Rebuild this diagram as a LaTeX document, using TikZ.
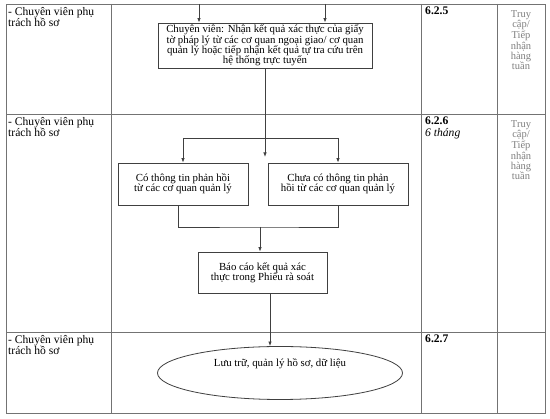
\documentclass[tikz,border=0pt]{standalone}
\usepackage{fontspec}
\setmainfont{Liberation Serif}
\usepackage{tikz}
\usetikzlibrary{arrows.meta,positioning,shapes.geometric}
\usepackage{xcolor}

\begin{document}
\begin{tikzpicture}[
  x=1pt, y=-1pt,
  font=\fontsize{10.8}{10.3}\selectfont,
  grid/.style={draw=black!55, line width=0.7pt},
  box/.style={draw=black!75, line width=0.8pt, align=center, inner sep=2pt},
  cell/.style={anchor=north west, align=left, inner sep=0pt, font=\fontsize{11.6}{11.5}\selectfont},
  tan/.style={anchor=north, align=center, inner sep=0pt, text=black!50, font=\fontsize{10.5}{8.9}\selectfont},
  line/.style={draw=black!75, line width=0.8pt},
  arrow/.style={line, -{Latex[length=4.5pt,width=3.5pt]}}
]
\useasboundingbox (0,0) rectangle (550,419);
\fill[white] (0,0) rectangle (550,419);

% bang
\draw[grid] (6,4) rectangle (545,413);
\draw[grid] (111,4) -- (111,413);
\draw[grid] (421,4) -- (421,413);
\draw[grid] (497,4) -- (497,413);
\draw[grid] (6,114) -- (545,114);
\draw[grid] (6,332) -- (545,332);

\node[cell] (cv1) at (8,7) {- Chuyên viên phụ\\trách hồ sơ};
\node[cell] (cv2) at (8,117) {- Chuyên viên phụ\\trách hồ sơ};
\node[cell] (cv3) at (8,335) {- Chuyên viên phụ\\trách hồ sơ};
\node[cell] (b625) at (425,7) {\textbf{6.2.5}};
\node[cell] (b626) at (425,117) {\textbf{6.2.6}\\\textit{6 tháng}};
\node[cell] (b627) at (425,335) {\textbf{6.2.7}};
\node[tan] (tg1) at (521,10) {Truy\\cập/\\Tiếp\\nhận\\hàng\\tuần};
\node[tan] (tg2) at (521,120) {Truy\\cập/\\Tiếp\\nhận\\hàng\\tuần};

% luu do
\node[box, minimum width=214, minimum height=43] (nhan) at (265,45.5)
  {Chuyên viên: Nhận kết quả xác thực của giấy\\
   tờ pháp lý từ các cơ quan ngoại giao/ cơ quan\\
   quản lý hoặc tiếp nhận kết quả tự tra cứu trên\\
   hệ thống trực tuyến};
\node[box, minimum width=130, minimum height=42] (co) at (183,184)
  {Có thông tin phản hồi\\từ các cơ quan quản lý};
\node[box, minimum width=140, minimum height=42] (chua) at (338,184)
  {Chưa có thông tin phản\\hồi từ các cơ quan quản lý};
\node[box, minimum width=129, minimum height=41] (baocao) at (262.5,272.5)
  {Báo cáo kết quả xác\\thực trong Phiếu rà soát};
\node[ellipse, draw=black!75, line width=0.8pt, minimum width=245, minimum height=53,
  text depth=20pt] (luutru) at (280,373) {Lưu trữ, quản lý hồ sơ, dữ liệu};

\coordinate (vao1) at (199,4);
\coordinate (vao2) at (325,4);
\coordinate (tach) at (265,138);
\coordinate (giua) at (265,157);
\coordinate (gop) at (260,227);

\draw[arrow] (vao1) -- (vao1 |- nhan.north);
\draw[arrow] (vao2) -- (vao2 |- nhan.north);
\draw[arrow] (nhan.south) -- (giua);
\draw[line] (tach -| co) -- (tach -| chua);
\draw[arrow] (tach -| co) -- (co.north);
\draw[arrow] (tach -| chua) -- (chua.north);
\draw[line] ([xshift=-5pt]co.south) |- (gop) -| (chua.south);
\draw[arrow] (gop) -- (gop |- baocao.north);
\draw[arrow] ([xshift=7.5pt]baocao.south) -- ([xshift=7.5pt]baocao.south |- luutru.north);
\end{tikzpicture}
\end{document}
